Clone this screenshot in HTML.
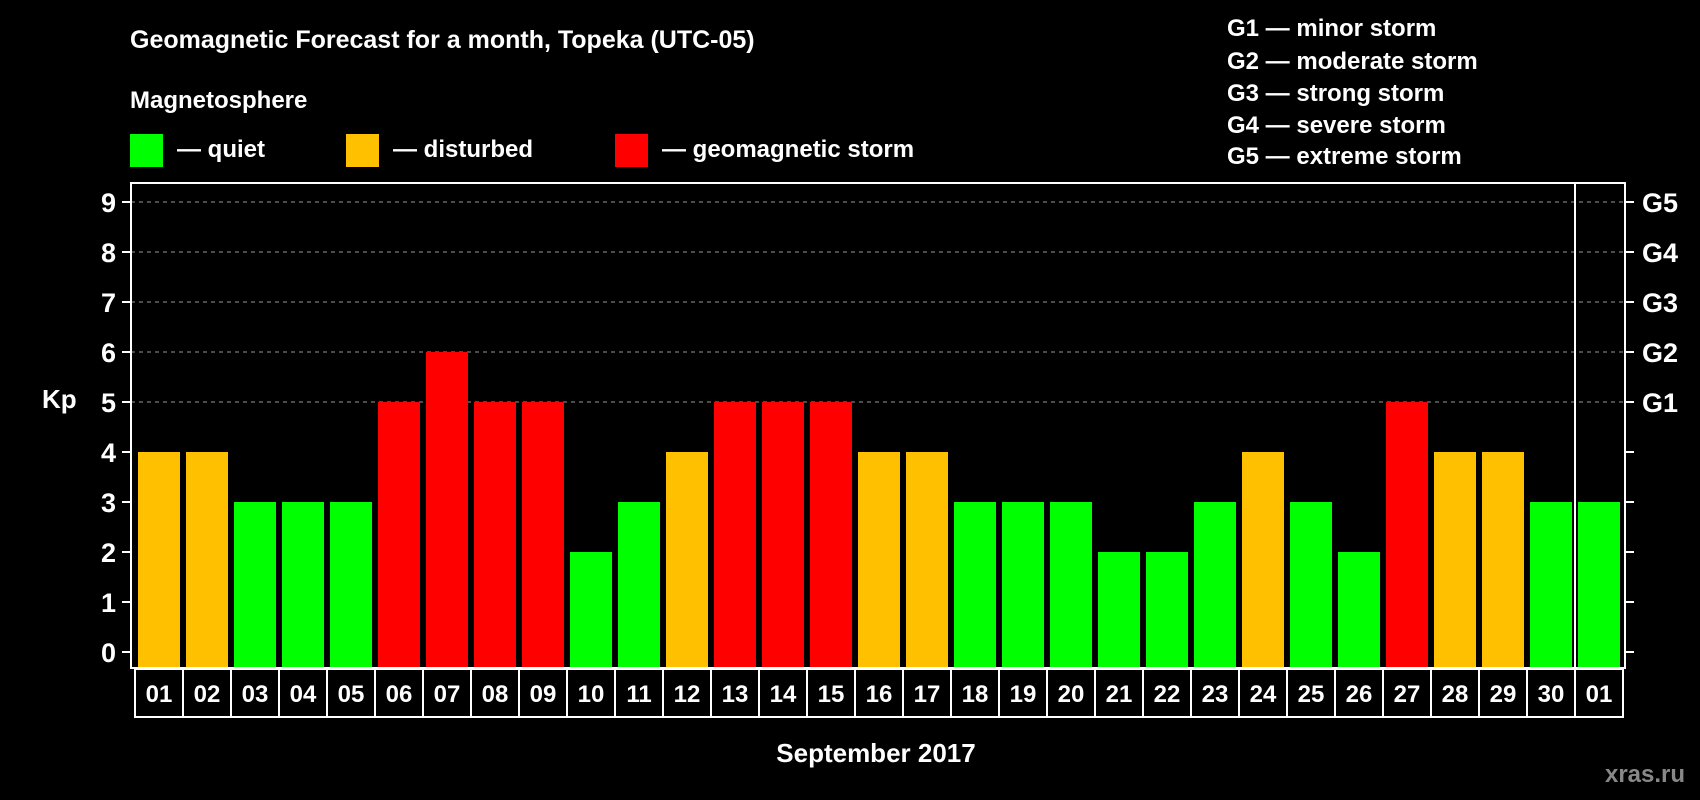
<!DOCTYPE html>
<html><head><meta charset="utf-8"><style>
html,body{margin:0;padding:0;background:#000;width:1700px;height:800px;overflow:hidden}
svg text{font-family:"Liberation Sans",Arial,sans-serif;font-weight:bold;fill:#fff}
</style></head><body>
<svg id="c" width="1700" height="800" xmlns="http://www.w3.org/2000/svg">
<text x="130" y="48" font-size="25">Geomagnetic Forecast for a month, Topeka (UTC-05)</text>
<text x="130" y="108" font-size="24">Magnetosphere</text>
<rect x="130" y="134" width="33" height="33" fill="#00ff00"/>
<text x="177" y="157" font-size="24">— quiet</text>
<rect x="346" y="134" width="33" height="33" fill="#ffc000"/>
<text x="393" y="157" font-size="24">— disturbed</text>
<rect x="615" y="134" width="33" height="33" fill="#ff0000"/>
<text x="662" y="157" font-size="24">— geomagnetic storm</text>
<g font-size="24">
<text x="1227" y="36">G1 — minor storm</text>
<text x="1227" y="69">G2 — moderate storm</text>
<text x="1227" y="101">G3 — strong storm</text>
<text x="1227" y="133">G4 — severe storm</text>
<text x="1227" y="164">G5 — extreme storm</text>
</g>
<text x="42" y="408" font-size="26">Kp</text>
<text x="876" y="762" font-size="26" text-anchor="middle">September 2017</text>
<text x="1645" y="782" font-size="24" text-anchor="middle" style="fill:#888">xras.ru</text>
<g id="plot"></g>
</svg>
<script>
const days=["01","02","03","04","05","06","07","08","09","10","11","12","13","14","15","16","17","18","19","20","21","22","23","24","25","26","27","28","29","30","01"];
const kp=[4,4,3,3,3,5,6,5,5,2,3,4,5,5,5,4,4,3,3,3,2,2,3,4,3,2,5,4,4,3,3];
const yTicks=[0,1,2,3,4,5,6,7,8,9];
const gLabels=["G1","G2","G3","G4","G5"];
const gLevels=[5,6,7,8,9];
const NS="http://www.w3.org/2000/svg";
const g=document.getElementById('plot');
const L=131,R=1625,T=183,B=668,x0=138,slot=48;
const y=v=>652-v*50;
const xs=i=>x0+i*slot;
function mk(t,a){const e=document.createElementNS(NS,t);for(const k in a)e.setAttribute(k,a[k]);g.appendChild(e);return e;}
gLevels.forEach(v=>{const e=mk('line',{x1:L,x2:R,y1:y(v),y2:y(v),stroke:'#999','stroke-dasharray':'4,4','stroke-width':1});

});
kp.forEach((v,i)=>{const col=v>=5?'#ff0000':(v>=4?'#ffc000':'#00ff00');
const r=mk('rect',{x:xs(i),y:y(v),width:42,height:B-y(v),fill:col});


const c=mk('rect',{x:xs(i)-3,y:669,width:slot,height:48,fill:'none',stroke:'#fff','stroke-width':2});


const t=mk('text',{x:xs(i)+21,y:702,'text-anchor':'middle','font-size':24});t.textContent=days[i];

});
const f=mk('rect',{x:L,y:T,width:R-L,height:B-T,fill:'none',stroke:'#fff','stroke-width':2});


const sep=mk('line',{x1:xs(30)-3,x2:xs(30)-3,y1:T,y2:B,stroke:'#fff','stroke-width':2});


yTicks.forEach(v=>{const l=mk('line',{x1:122,x2:L,y1:y(v),y2:y(v),stroke:'#fff','stroke-width':2});


const r2=mk('line',{x1:R,x2:R+9,y1:y(v),y2:y(v),stroke:'#fff','stroke-width':2});


const t=mk('text',{x:116,y:y(v)+10,'text-anchor':'end','font-size':27});t.textContent=v;

});
gLabels.forEach((s,i)=>{const t=mk('text',{x:1642,y:y(gLevels[i])+10,'font-size':27});t.textContent=s;

});
</script>
</body></html>
